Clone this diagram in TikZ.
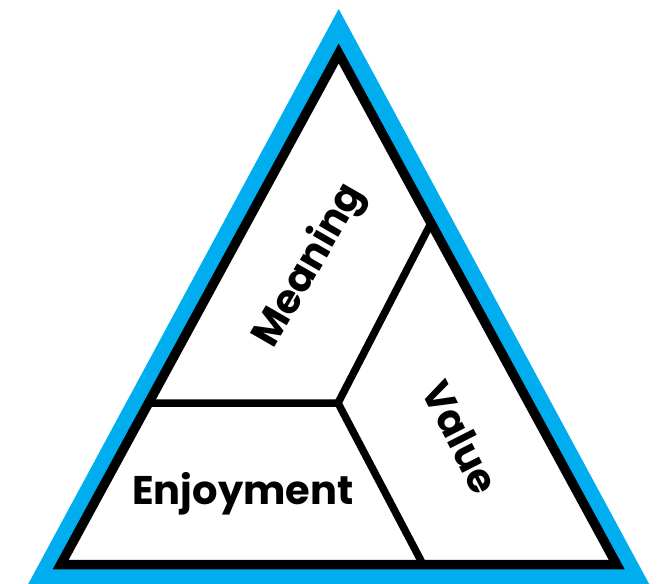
\documentclass[tikz,border=0pt]{standalone}
\usepackage{fontspec}
\newfontfamily\labelfont{Poppins}
\usepackage{tikz}
\usetikzlibrary{calc}

\definecolor{triblue}{RGB}{0,174,239}

\begin{document}
\begin{tikzpicture}[
    x=1pt, y=-1pt,
    rim/.style={fill=triblue, draw=none},
    frame/.style={draw=black, fill=white, line width=9.5pt, line join=miter},
    divider/.style={draw=black, line width=7.5pt},
    label/.style={font=\labelfont\bfseries\fontsize{40}{40}\selectfont, text=black, inner sep=0pt}
]
    \useasboundingbox (0,0) rectangle (670,584);

    % Blue rim
    \coordinate (rimtop) at (338.7,9);
    \coordinate (rimleft) at (27.7,585);
    \coordinate (rimright) at (649.7,585);
    \fill[rim] (rimtop) -- (rimleft) -- (rimright) -- cycle;

    % Black frame
    \coordinate (top) at (338.7,53.5);
    \coordinate (left) at (60.7,564.5);
    \coordinate (right) at (616.7,564.5);
    \path[frame] (top) -- (left) -- (right) -- cycle;

    % Dividers
    \coordinate (hub) at (338,403);
    \coordinate (wleft) at ($(top)!0.684!(left)$);
    \coordinate (wright) at ($(top)!0.332!(right)$);
    \coordinate (wbase) at (423,564.5);
    \draw[divider] (wleft) -- (hub);
    \draw[divider] (hub) -- (wright);
    \draw[divider, line join=miter] (hub) -- (wbase);

    % Labels
    \node[label, rotate=60] (meaning) at (310,266) {Meaning};
    \node[label, rotate=-63] (value) at (461,437) {Value};
    \node[label] (enjoyment) at (243,494) {Enjoyment};
\end{tikzpicture}
\end{document}
